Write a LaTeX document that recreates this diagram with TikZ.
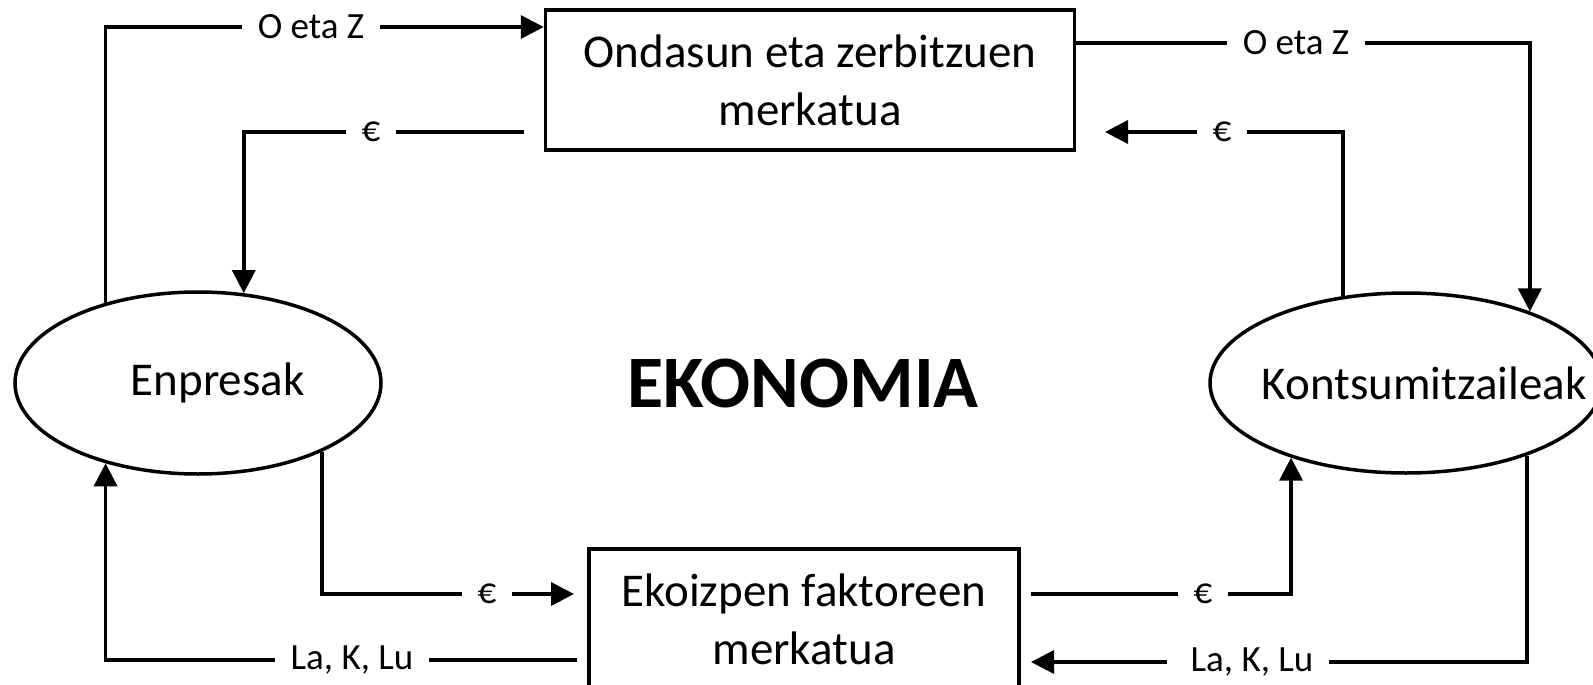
\documentclass[tikz,border=0pt]{standalone}
\usepackage{fontspec}
\setmainfont{Carlito}
\usetikzlibrary{arrows.meta}
\usetikzlibrary{shapes.geometric}

\begin{document}
\begin{tikzpicture}[x=1pt,y=-1pt,
  >={Triangle[length=23pt,width=23pt]},line width=3.5pt,
  market/.style={draw,rectangle,minimum height=140pt,inner sep=0pt,align=center,font=\fontsize{47}{58}\selectfont},
  agent/.style={draw,ellipse,inner xsep=-45pt,inner ysep=0pt,align=right,font=\fontsize{47}{58}\selectfont},
  flow/.style={inner xsep=14pt,inner ysep=0pt,font=\fontsize{37}{44}\selectfont}]
      \useasboundingbox (0,0) rectangle (1593,685);

     \node [market,minimum width=529pt] (M1) at (810,80) {Ondasun eta zerbitzuen\\merkatua};
     \node [market,minimum width=430pt] (M2) at (804,619) {Ekoizpen faktoreen\\merkatua};
     \node [agent,text width=213pt,minimum width=366pt,minimum height=182pt] (E) at (198,383) {Enpresak};
     \node [agent,text width=361pt,minimum width=392pt,minimum height=180pt] (K) at (1406,383) {Kontsumitzaileak};
     \node [font=\fontsize{74}{88}\selectfont\bfseries] (T) at (803,383) {EKONOMIA};

     \node [flow] (L1) at (311,27) {O eta Z};
     \node [flow] (L2) at (371,132) {€};
     \node [flow] (L3) at (1296,43) {O eta Z};
     \node [flow] (L4) at (1222,132) {€};
     \node [flow] (L5) at (487,594) {€};
     \node [flow] (L6) at (352,660) {La, K, Lu};
     \node [flow] (L7) at (1203,594) {€};
     \node [flow] (L8) at (1252,662) {La, K, Lu};

     \coordinate (P1) at (524,132);
     \coordinate (P2) at (1105,132);
     \coordinate (P3) at (574,594);
     \coordinate (P4) at (577,660);
     \coordinate (P5) at (1031,594);
     \coordinate (P6) at (1031,662);

       \draw[->] (E.139) |- (L1) -- (M1.west |- L1);
       \draw[->] (P1) -- (L2) -| (E.63);
       \draw[->] (M1.east |- L3) -- (L3) -| (K.30);
       \draw[->] (K.126) |- (L4) -- (P2);
       \draw[->] (E.-29) |- (L5) -- (P3);
       \draw[->] (P4) -- (L6) -| (E.221);
       \draw[->] (P5) -- (L7) -| (K.213);
       \draw[->,shorten <=8pt] (K.-31) |- (L8) -- (P6);

  \end{tikzpicture}
\end{document}
